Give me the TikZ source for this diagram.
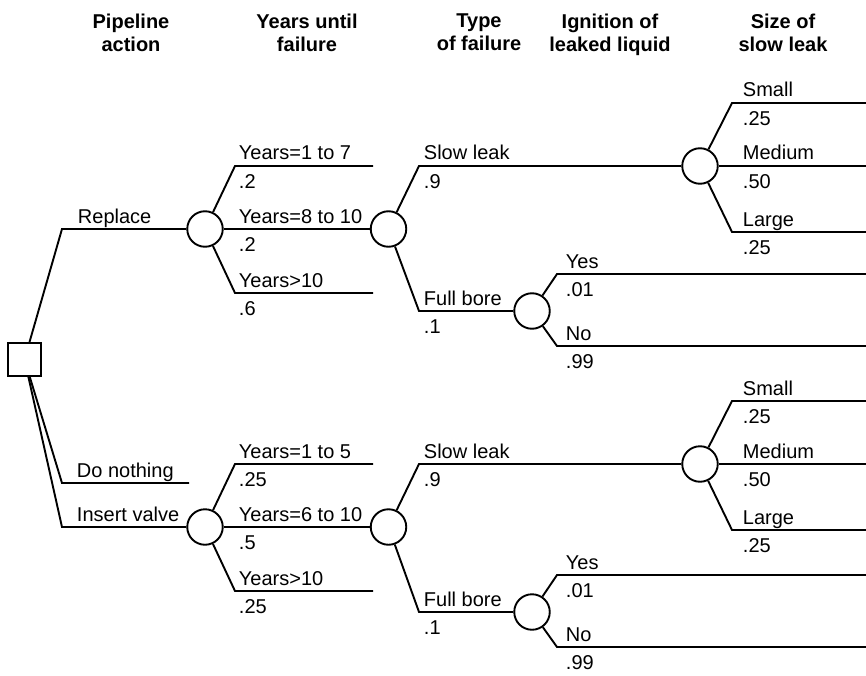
\documentclass[tikz,border=0pt]{standalone}
\usepackage{fontspec}
\setmainfont{Liberation Sans}
\usetikzlibrary{calc}

\begin{document}
\begin{tikzpicture}[x=1pt,y=-1pt,line width=1.9pt,
  every node/.style={font=\fontsize{20}{23}\selectfont,inner sep=0pt},
  chance/.style={shape=circle,draw=black,minimum size=35.5pt},
  decision/.style={shape=rectangle,draw=black,minimum size=33pt},
  up/.style={anchor=base west},
  down/.style={anchor=north west},
  head/.style={anchor=north,align=center,font=\fontsize{20}{23}\selectfont\bfseries}]
\useasboundingbox (0,0) rectangle (866,676);

% column headings
\node[head] (hAct) at (131,13) {Pipeline\\action};
\node[head] (hYrs) at (307,13) {Years until\\failure};
\node[head] (hTyp) at (479,13) {Type\\of failure};
\node[head] (hIgn) at (610,13) {Ignition of\\leaked liquid};
\node[head] (hSiz) at (783,13) {Size of\\slow leak};

\coordinate (yrsEnd) at (373,0);
\coordinate (rim) at (866,0);

% one chance subtree per action
\foreach \tr/\yb/\yf/\ua/\pa/\ub/\pb/\uc/\pc in
  {u/229/82/Years=1 to 7/.2/Years=8 to 10/.2/Years>10/.6,
   l/527/85/Years=1 to 5/.25/Years=6 to 10/.5/Years>10/.25}
{
\node[chance] (yrs\tr) at (205,\yb) {};
\node[chance] (typ\tr) at (388.5,\yb) {};
\node[chance] (siz\tr) at (700,\yb-63) {};
\node[chance] (ign\tr) at (532,\yb+\yf) {};

\coordinate (ya\tr) at (235,\yb-63);
\coordinate (yc\tr) at (235,\yb+64);
\coordinate (sl\tr) at (419,\yb-63);
\coordinate (fb\tr) at (419,\yb+\yf);
\coordinate (sa\tr) at (732,\yb-126);
\coordinate (sc\tr) at (732,\yb+3);
\coordinate (iy\tr) at (557,\yb+\yf-37);
\coordinate (in\tr) at (557,\yb+\yf+35);

\draw (yrs\tr) -- (ya\tr) -- (ya\tr -| yrsEnd);
\draw (yrs\tr) -- (typ\tr);
\draw (yrs\tr) -- (yc\tr) -- (yc\tr -| yrsEnd);
\draw (typ\tr) -- (sl\tr) -- (siz\tr);
\draw (typ\tr) -- (fb\tr) -- (ign\tr);
\draw (siz\tr) -- (sa\tr) -- (sa\tr -| rim);
\draw (siz\tr) -- (siz\tr -| rim);
\draw (siz\tr) -- (sc\tr) -- (sc\tr -| rim);
\draw (ign\tr) -- (iy\tr) -- (iy\tr -| rim);
\draw (ign\tr) -- (in\tr) -- (in\tr -| rim);

% branch names above, probabilities below
\node[up] (la\tr) at (238,\yb-69) {\ua};
\node[down] (pa\tr) at (238,\yb-55) {\pa};
\node[up] (lb\tr) at (238,\yb-6) {\ub};
\node[down] (pb\tr) at (238,\yb+8) {\pb};
\node[up] (lc\tr) at (238,\yb+58) {\uc};
\node[down] (pc\tr) at (238,\yb+72) {\pc};

\node[up] (lsl\tr) at (423,\yb-69) {Slow leak};
\node[down] (psl\tr) at (423,\yb-55) {.9};
\node[up] (lfb\tr) at (423,\yb+\yf-6) {Full bore};
\node[down] (pfb\tr) at (423,\yb+\yf+8) {.1};

\node[up] (lsa\tr) at (742,\yb-132) {Small};
\node[down] (psa\tr) at (742,\yb-118) {.25};
\node[up] (lsb\tr) at (742,\yb-69) {Medium};
\node[down] (psb\tr) at (742,\yb-55) {.50};
\node[up] (lsc\tr) at (742,\yb-3) {Large};
\node[down] (psc\tr) at (742,\yb+11) {.25};

\node[up] (liy\tr) at (565,\yb+\yf-43) {Yes};
\node[down] (piy\tr) at (565,\yb+\yf-29) {.01};
\node[up] (lin\tr) at (565,\yb+\yf+29) {No};
\node[down] (pin\tr) at (565,\yb+\yf+43) {.99};
}

% decision node and the three actions
\node[decision] (D) at (24.5,359.5) {};
\coordinate (rep) at (62,229);
\coordinate (non) at (62,483);
\coordinate (ins) at (62,527);
\coordinate (nonEnd) at (189,483);

\draw (D) -- (rep) -- (yrsu);
\draw (D) -- (non) -- (nonEnd);
\draw (D) -- (ins) -- (yrsl);

\node[up] (lrep) at (77,223) {Replace};
\node[up] (lnon) at (76,477) {Do nothing};
\node[up] (lins) at (76,521) {Insert valve};
\end{tikzpicture}
\end{document}
